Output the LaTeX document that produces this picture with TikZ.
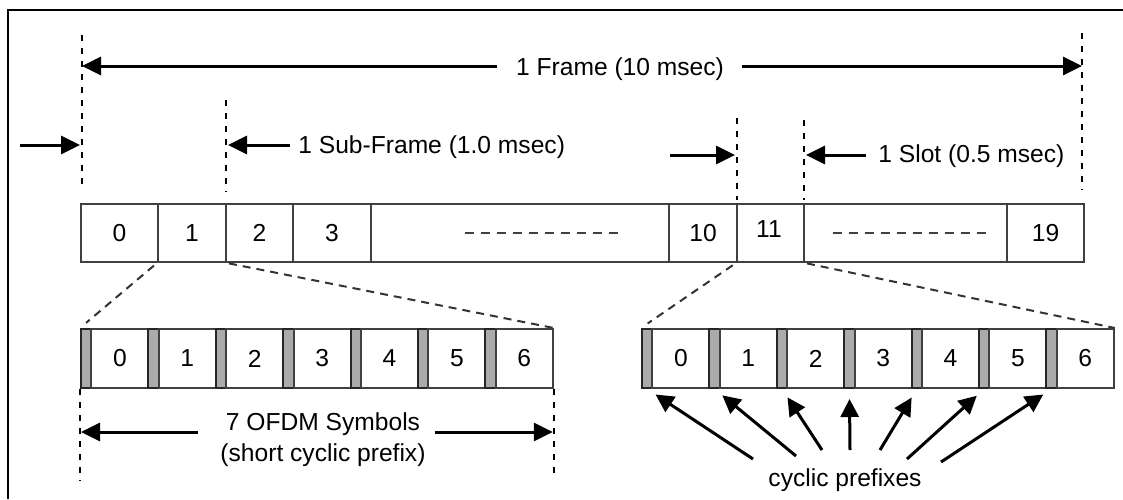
\documentclass[tikz,border=0pt]{standalone}
\usepackage{fontspec}
\setmainfont{Liberation Sans}
\usetikzlibrary{arrows.meta}

\tikzset{
  every node/.append style={font=\fontsize{12.3}{15.5}\selectfont},
  slotbox/.style={draw=black!75, line width=1pt, inner sep=0pt, minimum height=29pt},
  cpbox/.style={draw=black!85, fill=black!33, line width=1pt, inner sep=0pt,
    minimum width=5.2pt, minimum height=29.5pt},
  symbox/.style={draw=black!75, line width=1pt, inner sep=0pt,
    minimum width=28.5pt, minimum height=29.5pt},
  tickline/.style={line width=1.1pt, dash pattern=on 3.2pt off 3.3pt},
  gapline/.style={line width=1.1pt, black!75, dash pattern=on 4.5pt off 3.5pt},
  zoomline/.style={line width=1pt, black!80, dash pattern=on 4pt off 3pt},
  dimarrow/.style={line width=1.5pt, -{Triangle[length=9.5pt,width=9pt]}},
  cparrow/.style={line width=1.5pt, -{Triangle[length=9pt,width=9pt]}, shorten >=5pt},
}

\begin{document}
\begin{tikzpicture}[x=0.5pt, y=-0.5pt]

\useasboundingbox (0,0) rectangle (1123,499);
\draw [line width=1.3pt] (8,499) -- (8,10) -- (1123,10);

% Quadro de slots

\foreach \l/\a/\b/\t in {0/81/158/0, 1/158/226/1, 2/226/293/2, 3/293/371/3,
    d1/371/669/{}, 10/669/737/10, 11/737/804/{}, d2/804/1007/{}, 19/1007/1084/19}
  \node [slotbox, minimum width={(\b-\a)*0.5pt}] (slot-\l) at ({(\a+\b)/2},233) {\t};

\node (slot-11-text) at (769,229) {11};

\draw [gapline] ([xshift=-27.5pt]slot-d1.center) -- ([xshift=51pt]slot-d1.center);
\draw [gapline] ([xshift=-36.5pt]slot-d2.center) -- ([xshift=41.5pt]slot-d2.center);

% Simbolos OFDM

\foreach \s/\x in {A/81, B/642}
  \foreach \i in {0,...,6} {
    \node [cpbox] (cp\s-\i) at ({\x+67.4*\i+5.2},358.5) {};
    \node [symbox] (sym\s-\i) at ({\x+67.4*\i+10.4+28.5},358.5) {\i};
  }

% Linhas tracejadas

\coordinate (tA-top) at (82,35);   \coordinate (tA-bot) at (82,190);
\coordinate (tB-top) at (226,100); \coordinate (tB-bot) at (226,192);
\coordinate (tC-top) at (737,118); \coordinate (tC-bot) at (737,200);
\coordinate (tD-top) at (804,120); \coordinate (tD-bot) at (804,200);
\coordinate (tE-top) at (1082,33); \coordinate (tE-bot) at (1082,190);

\foreach \t in {A,B,C,D,E}
  \draw [tickline] (t\t-top) -- (t\t-bot);

\draw [tickline] (cpA-0.south west) -- ++(0,92);
\draw [tickline] (symA-6.south east) -- ++(0,88);

\draw [zoomline, shorten <=2pt, shorten >=4pt] (slot-1.south west) -- (cpA-0.north west);
\draw [zoomline, shorten <=1pt] (slot-1.south east) -- (symA-6.north east);
\draw [zoomline, shorten <=2pt, shorten >=4pt] (slot-11.south west) -- (cpB-0.north west);
\draw [zoomline, shorten <=1pt] (slot-11.south east) -- (symB-6.north east);

% Rotulos e setas

\node (frame) at (620,69) {1 Frame (10 msec)};
\coordinate (frame-l) at (497,66);
\coordinate (frame-r) at (742,66);
\draw [dimarrow] (frame-l) -- (tA-top |- frame-l);
\draw [dimarrow] (frame-r) -- (tE-top |- frame-r);

\coordinate (start-in) at (20,145);
\draw [dimarrow] (start-in) -- ([xshift=-1pt]tA-top |- start-in);

\node [anchor=west, inner sep=0pt] (subframe) at (298,147) {1 Sub-Frame (1.0 msec)};
\coordinate (subframe-l) at (290,145);
\draw [dimarrow] (subframe-l) -- ([xshift=1pt]tB-top |- subframe-l);

\coordinate (slot-in) at (670,155);
\draw [dimarrow] (slot-in) -- ([xshift=-1pt]tC-top |- slot-in);

\node [anchor=west, inner sep=0pt] (slot) at (878,156) {1 Slot (0.5 msec)};
\coordinate (slot-l) at (866,155);
\draw [dimarrow] (slot-l) -- ([xshift=1pt]tD-top |- slot-l);

\node [align=center] (ofdm) at (323,440) {7 OFDM Symbols\\(short cyclic prefix)};
\coordinate (ofdm-l) at (198,432);
\coordinate (ofdm-r) at (435,432);
\draw [dimarrow] (ofdm-l) -- ([xshift=0.5pt]cpA-0.west |- ofdm-l);
\draw [dimarrow] (ofdm-r) -- ([xshift=-0.5pt]symA-6.east |- ofdm-r);

\node (prefixes) at (845,480) {cyclic prefixes};

\foreach \i/\x/\y in {0/753/459, 1/796/456, 2/822/450, 3/850/450, 4/880/450, 5/907/459, 6/941/462}
  \coordinate (src-\i) at (\x,\y);
\foreach \i in {0,...,6}
  \draw [cparrow] (src-\i) -- (cpB-\i.south);

\end{tikzpicture}
\end{document}
